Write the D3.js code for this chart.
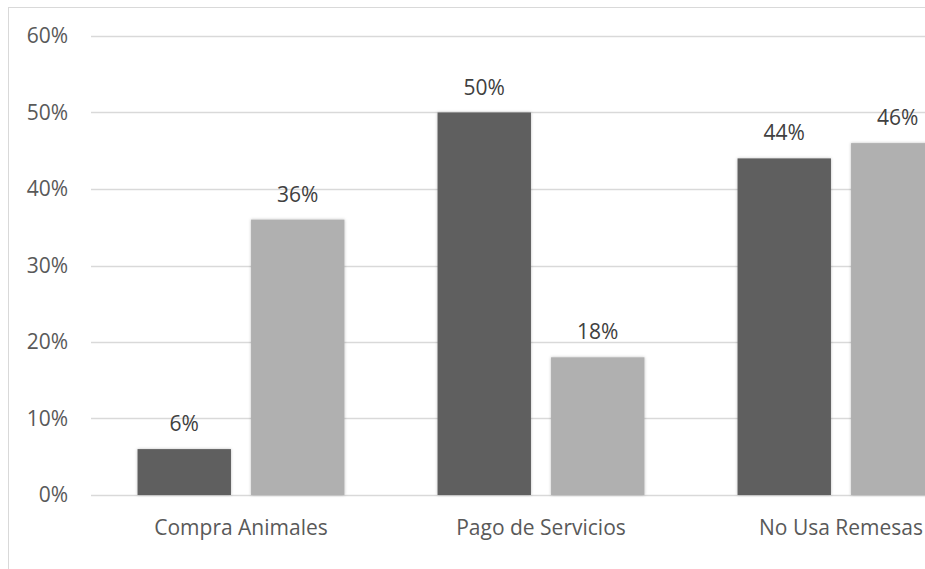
<!DOCTYPE html>
<html lang="es">
<head>
  <meta charset="utf-8">
  <script src="https://cdn.jsdelivr.net/npm/d3@7"></script>
  <style>
    body { margin: 0; background: #fff; }
    svg { display: block; font-family: 'Open Sans', sans-serif; }
    .axis path, .axis line { stroke: none; }
  </style>
</head>
<body>
  <div id="chart"></div>
  <script>
    // Chart data.
    var categories = ['Compra Animales', 'Pago de Servicios', 'No Usa Remesas'];
    var seriesA = [0.06, 0.50, 0.44];
    var seriesB = [0.36, 0.18, 0.46];
    var yTicks = [0, 0.1, 0.2, 0.3, 0.4, 0.5, 0.6];

    var width = 925, height = 569;
    // Right margin is negative: the chart runs past the edge of the picture.
    var margin = { top: 36, right: -66, bottom: 74, left: 91 };
    var fontSize = 21;

    var svg = d3.select('#chart')
      .append('svg')
      .attr('width', width)
      .attr('height', height);

    // Chart border (runs past the right and bottom edge of the picture).
    svg.append('rect')
      .attr('x', 8.5).attr('y', 7.5)
      .attr('width', 1100).attr('height', 1100)
      .attr('fill', 'none')
      .attr('stroke', '#d9d9d9');

    var x0 = d3.scaleBand()
      .domain(categories)
      .range([margin.left, width - margin.right]);

    var x1 = d3.scaleBand()
      .domain(['a', 'b'])
      .range([0, x0.bandwidth()])
      .paddingInner(0.177)
      .paddingOuter(0.41);

    var y = d3.scaleLinear()
      .domain([0, 0.6])
      .range([height - margin.bottom, margin.top]);

    // Gridlines.
    svg.append('g')
      .selectAll('line')
      .data(yTicks)
      .enter()
      .append('line')
      .attr('x1', margin.left)
      .attr('x2', width - margin.right)
      .attr('y1', function(d) { return Math.round(y(d)) + 0.5; })
      .attr('y2', function(d) { return Math.round(y(d)) + 0.5; })
      .attr('stroke', '#d9d9d9')
      .attr('stroke-width', 1.3);

    // Y axis labels.
    svg.append('g')
      .attr('class', 'axis')
      .attr('transform', 'translate(' + (margin.left - 20) + ',0)')
      .call(d3.axisLeft(y).tickValues(yTicks).tickFormat(d3.format('.0%')).tickSize(0))
      .call(function(g) {
        g.selectAll('text')
          .attr('fill', '#595959')
          .attr('font-size', fontSize)
          .attr('font-family', "'Open Sans', sans-serif");
      });

    // X axis labels.
    svg.append('g')
      .attr('class', 'axis')
      .attr('transform', 'translate(0,' + (height - margin.bottom + 22) + ')')
      .call(d3.axisBottom(x0).tickSize(0))
      .call(function(g) {
        g.selectAll('text')
          .attr('fill', '#595959')
          .attr('font-size', fontSize)
          .attr('font-family', "'Open Sans', sans-serif");
      });

    var defs = svg.append('defs');
    var f = defs.append('filter').attr('id', 'shadow')
      .attr('x', '-10%').attr('y', '-10%').attr('width', '120%').attr('height', '120%');
    f.append('feDropShadow')
      .attr('dx', 0).attr('dy', 0).attr('stdDeviation', 1.5)
      .attr('flood-color', '#000').attr('flood-opacity', 0.25);

    var series = [
      { key: 'a', values: seriesA, color: '#5f5f5f' },
      { key: 'b', values: seriesB, color: '#b0b0b0' }
    ];

    var groups = svg.append('g')
      .selectAll('g')
      .data(series)
      .enter()
      .append('g');

    groups.selectAll('rect')
      .data(function(s) {
        return s.values.map(function(v, i) { return { key: s.key, cat: categories[i], value: v, color: s.color }; });
      })
      .enter()
      .append('rect')
      .attr('x', function(d) { return x0(d.cat) + x1(d.key); })
      .attr('y', function(d) { return y(d.value); })
      .attr('width', x1.bandwidth())
      .attr('height', function(d) { return y(0) - y(d.value); })
      .attr('fill', function(d) { return d.color; })
      .attr('filter', 'url(#shadow)');

    // Value labels above the bars.
    groups.selectAll('text')
      .data(function(s) {
        return s.values.map(function(v, i) { return { key: s.key, cat: categories[i], value: v }; });
      })
      .enter()
      .append('text')
      .attr('x', function(d) { return x0(d.cat) + x1(d.key) + x1.bandwidth() / 2; })
      .attr('y', function(d) { return y(d.value) - 18; })
      .attr('text-anchor', 'middle')
      .attr('fill', '#404040')
      .style('font-size', fontSize + 'px')
      .text(function(d) { return d3.format('.0%')(d.value); });
  </script>
</body>
</html>
